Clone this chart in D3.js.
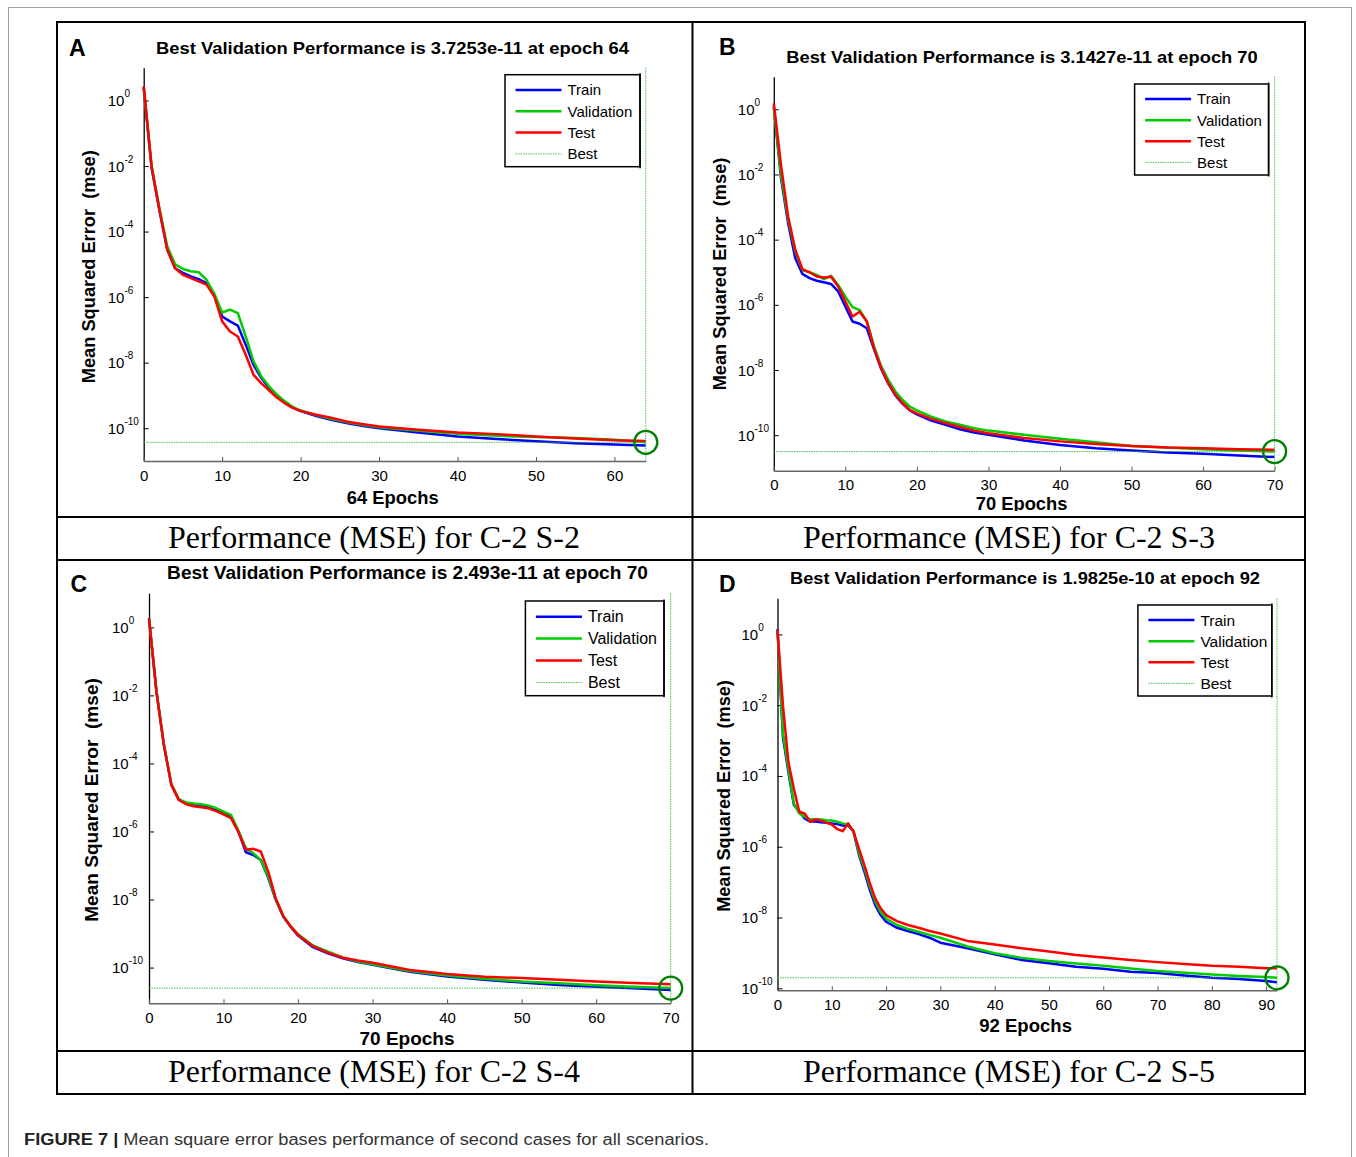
<!DOCTYPE html>
<html>
<head>
<meta charset="utf-8">
<script src="https://cdn.jsdelivr.net/npm/d3@7"></script>
<style>
  html, body { margin: 0; padding: 0; background: #fff; }
  svg { display: block; }
</style>
</head>
<body>
<svg id="fig" width="1356" height="1157"></svg>
<script>
// ---------------------------------------------------------------------------
// Training records: MSE per epoch, stored as powers of ten (log10 of MSE).
// ---------------------------------------------------------------------------
const epochsA = [0,1,2,3,4,5,6,7,8,9,10,11,12,13,14,15,16,17,18,19,20,22,24,26,28,30,35,40,45,50,55,60,64];
const trainA = [0.40,-2.05,-3.35,-4.55,-5.12,-5.26,-5.37,-5.45,-5.57,-5.93,-6.59,-6.74,-6.87,-7.45,-8.07,-8.47,-8.78,-9.03,-9.22,-9.37,-9.48,-9.63,-9.75,-9.85,-9.93,-10.0,-10.13,-10.25,-10.33,-10.4,-10.46,-10.5,-10.53];
const validA = [0.40,-2.0,-3.28,-4.45,-5.0,-5.14,-5.21,-5.24,-5.47,-5.9,-6.47,-6.38,-6.49,-7.2,-7.96,-8.42,-8.73,-8.98,-9.18,-9.35,-9.46,-9.6,-9.72,-9.82,-9.9,-9.97,-10.08,-10.17,-10.23,-10.27,-10.3,-10.35,-10.429];
const testA  = [0.44,-2.0,-3.33,-4.55,-5.12,-5.32,-5.42,-5.52,-5.62,-5.98,-6.74,-7.05,-7.2,-7.76,-8.37,-8.63,-8.85,-9.07,-9.24,-9.38,-9.47,-9.59,-9.69,-9.8,-9.88,-9.95,-10.05,-10.13,-10.18,-10.25,-10.31,-10.37,-10.39];

const epochsB = [0,1,2,3,4,5,6,7,8,9,10,11,12,13,14,15,16,17,18,19,20,22,24,26,28,30,35,40,45,50,55,60,65,70];
const trainB = [0.08,-2.1,-3.5,-4.57,-5.05,-5.18,-5.26,-5.31,-5.36,-5.59,-6.05,-6.51,-6.58,-6.72,-7.36,-7.96,-8.42,-8.78,-9.04,-9.24,-9.36,-9.55,-9.68,-9.82,-9.92,-9.99,-10.16,-10.3,-10.4,-10.47,-10.53,-10.57,-10.62,-10.67];
const validB = [0.05,-2.0,-3.38,-4.36,-4.93,-5.0,-5.08,-5.21,-5.11,-5.39,-5.75,-6.07,-6.16,-6.51,-7.26,-7.88,-8.3,-8.66,-8.92,-9.12,-9.24,-9.43,-9.58,-9.68,-9.79,-9.86,-9.99,-10.11,-10.22,-10.33,-10.38,-10.43,-10.47,-10.503];
const testB  = [0.18,-1.7,-3.29,-4.31,-4.91,-5.0,-5.13,-5.16,-5.14,-5.44,-5.9,-6.36,-6.21,-6.51,-7.33,-7.94,-8.4,-8.76,-9.02,-9.22,-9.33,-9.5,-9.63,-9.75,-9.86,-9.94,-10.09,-10.19,-10.27,-10.33,-10.38,-10.4,-10.43,-10.45];

const epochsC = [0,1,2,3,4,5,6,7,8,9,10,11,12,13,14,15,16,17,18,19,20,22,24,26,28,30,35,40,45,50,55,60,65,70];
const trainC = [0.26,-1.89,-3.46,-4.63,-5.07,-5.18,-5.22,-5.26,-5.29,-5.35,-5.45,-5.56,-6.0,-6.61,-6.69,-6.84,-7.36,-8.01,-8.5,-8.8,-9.06,-9.4,-9.58,-9.73,-9.84,-9.92,-10.12,-10.26,-10.36,-10.44,-10.51,-10.56,-10.61,-10.66];
const validC = [0.26,-1.89,-3.46,-4.6,-5.05,-5.15,-5.18,-5.2,-5.24,-5.31,-5.42,-5.51,-5.98,-6.49,-6.64,-6.84,-7.32,-7.99,-8.48,-8.78,-9.02,-9.35,-9.53,-9.7,-9.82,-9.9,-10.1,-10.23,-10.33,-10.41,-10.46,-10.52,-10.56,-10.603];
const testC  = [0.26,-1.89,-3.46,-4.63,-5.07,-5.2,-5.26,-5.29,-5.32,-5.4,-5.5,-5.61,-6.02,-6.54,-6.51,-6.59,-7.18,-7.96,-8.48,-8.79,-9.04,-9.37,-9.56,-9.71,-9.79,-9.86,-10.07,-10.19,-10.27,-10.31,-10.36,-10.41,-10.45,-10.49];

const epochsD = [0,1,2,3,4,5,6,7,8,9,10,11,12,13,14,15,16,17,18,19,20,22,24,26,28,30,35,40,45,50,55,60,65,70,75,80,85,90,92];
const trainD = [0.15,-2.9,-3.88,-4.81,-5.0,-5.2,-5.29,-5.29,-5.31,-5.32,-5.34,-5.36,-5.40,-5.40,-5.57,-6.23,-6.7,-7.22,-7.65,-7.93,-8.12,-8.29,-8.38,-8.47,-8.57,-8.71,-8.87,-9.04,-9.2,-9.29,-9.39,-9.45,-9.53,-9.57,-9.64,-9.7,-9.74,-9.79,-9.83];
const validD = [0.12,-2.8,-3.79,-4.77,-5.06,-5.15,-5.23,-5.22,-5.23,-5.25,-5.26,-5.29,-5.34,-5.37,-5.55,-6.18,-6.61,-7.12,-7.55,-7.84,-8.03,-8.21,-8.32,-8.4,-8.49,-8.57,-8.82,-9.01,-9.14,-9.23,-9.3,-9.36,-9.44,-9.51,-9.56,-9.61,-9.65,-9.68,-9.703];
const testD  = [0.12,-2.0,-3.6,-4.35,-5.01,-5.06,-5.29,-5.23,-5.26,-5.32,-5.37,-5.5,-5.56,-5.34,-5.57,-6.05,-6.52,-7.03,-7.46,-7.74,-7.93,-8.1,-8.21,-8.29,-8.38,-8.45,-8.66,-8.76,-8.87,-8.96,-9.06,-9.13,-9.2,-9.26,-9.31,-9.36,-9.39,-9.43,-9.43];

// Best validation performance and the epoch it was reached
const bestPerf  = [3.7253e-11, 3.1427e-11, 2.493e-11, 1.9825e-10];
const bestEpoch = [64, 70, 70, 92];

// Tick values and labels
const xTicksA = [0,10,20,30,40,50,60];
const xTicksB = [0,10,20,30,40,50,60,70];
const xTicksC = [0,10,20,30,40,50,60,70];
const xTicksD = [0,10,20,30,40,50,60,70,80,90];
const yTickValues = [1e0, 1e-2, 1e-4, 1e-6, 1e-8, 1e-10];

const panelLetters = ["A", "B", "C", "D"];
const legendLabels = ["Train", "Validation", "Test", "Best"];
const yAxisLabel = "Mean Squared Error  (mse)";
const cellCaptions = ["Performance (MSE) for C-2 S-2", "Performance (MSE) for C-2 S-3",
                      "Performance (MSE) for C-2 S-4", "Performance (MSE) for C-2 S-5"];
const figureLabel = "FIGURE 7 |";
const figureText = " Mean square error bases performance of second cases for all scenarios.";

// ---------------------------------------------------------------------------
const SANS = "'Liberation Sans', Arial, Helvetica, sans-serif";
const SERIF = "'Liberation Serif', 'Times New Roman', Times, serif";
const COLORS = { train: "#0000ff", valid: "#00cc00", test: "#ff0000", best: "#33bb33", circle: "#007f00" };

// Geometry of each panel (pixel frame of the axes and its surrounding texts)
const panels = [
  { epochs: epochsA, train: trainA, valid: validA, test: testA, xTicks: xTicksA,
    left: 143.7, right: 645.8, top: 67.7, bottom: 461, expLo: -11, expHi: 1, yLabOff: 36,
    title: { x: 392.5, y: 54, len: 473, fs: 17 }, letter: { x: 69, y: 55.7 },
    yLab: { x: 88.7, y: 266.7, len: 233 }, xLab: { x: 392.7, y: 503.8, len: 92 },
    legend: { x: 505, y: 74.7, w: 135, h: 92, fs: 15 } },
  { epochs: epochsB, train: trainB, valid: validB, test: testB, xTicks: xTicksB,
    left: 773.8, right: 1274.6, top: 76.7, bottom: 470.7, expLo: -11.09, expHi: 1, yLabOff: 36,
    title: { x: 1022, y: 63.4, len: 471.5, fs: 17 }, letter: { x: 719, y: 55.3 },
    yLab: { x: 719.5, y: 274, len: 232.7 }, xLab: { x: 1021.6, y: 509.5, len: 91.8, clip: 511 },
    legend: { x: 1134.6, y: 84, w: 134, h: 91, fs: 15 } },
  { epochs: epochsC, train: trainC, valid: validC, test: testC, xTicks: xTicksC,
    left: 149, right: 670.7, top: 593.3, bottom: 1003.3, expLo: -11.05, expHi: 1, yLabOff: 37,
    title: { x: 407.5, y: 579.4, len: 480.8, fs: 18 }, letter: { x: 70.5, y: 592.3 },
    yLab: { x: 92, y: 800, len: 243.7 }, xLab: { x: 407, y: 1044.8, len: 95 },
    legend: { x: 525.4, y: 601, w: 138.6, h: 94.7, fs: 16 } },
  { epochs: epochsD, train: trainD, valid: validD, test: testD, xTicks: xTicksD,
    left: 777.5, right: 1277, top: 598.3, bottom: 990.3, expLo: -10.056, expHi: 1.02, yLabOff: 36,
    title: { x: 1025, y: 584.4, len: 470, fs: 17 }, letter: { x: 719, y: 592.3 },
    yLab: { x: 723.6, y: 796, len: 231.7 }, xLab: { x: 1025.6, y: 1031.5, len: 92.7 },
    legend: { x: 1137.9, y: 605, w: 133.9, h: 91, fs: 15.5 } }
];

const svg = d3.select("#fig");
const defs = svg.append("defs");

// Page frame (open at the bottom)
svg.append("path")
  .attr("d", "M8.5,1157 V7.5 H1351.5 V1157")
  .attr("fill", "none").attr("stroke", "#a0a0a0").attr("stroke-width", 1);

// Table grid around the four panels
const grid = svg.append("g").attr("fill", "none").attr("stroke", "#000").attr("stroke-width", 2);
grid.append("rect").attr("x", 57).attr("y", 22).attr("width", 1248).attr("height", 1072);
[517, 560, 1051].forEach(yy => grid.append("line").attr("x1", 57).attr("x2", 1305).attr("y1", yy).attr("y2", yy));
grid.append("line").attr("x1", 692.5).attr("x2", 692.5).attr("y1", 22).attr("y2", 1094);

function drawPanel(p, i) {
  const g = svg.append("g").attr("font-family", SANS);
  const nEpochs = p.epochs[p.epochs.length - 1];
  const x = d3.scaleLinear().domain([0, nEpochs]).range([p.left, p.right]);
  const y = d3.scaleLog().domain([10 ** p.expLo, 10 ** p.expHi]).range([p.bottom, p.top]);

  // y axis
  const yAxis = g.append("g")
    .attr("transform", `translate(${p.left},0)`)
    .call(d3.axisLeft(y).tickValues(yTickValues).tickSizeInner(-5).tickSizeOuter(0).tickFormat(""));
  yAxis.attr("font-family", SANS).attr("font-size", null);
  yAxis.select(".domain").attr("stroke", "#000").attr("stroke-width", 1.3);
  yAxis.selectAll(".tick line").attr("stroke", "#000").attr("stroke-width", 1);
  yAxis.selectAll(".tick text").each(function (d) {
    const t = d3.select(this);
    t.text(null).attr("x", -p.yLabOff).attr("dy", null).attr("y", 5)
      .attr("text-anchor", "start").attr("fill", "#000");
    t.append("tspan").attr("font-size", 15).text("10");
    t.append("tspan").attr("font-size", 10).attr("dy", -9).text(Math.round(Math.log10(d)));
  });

  // x axis
  const xAxis = g.append("g")
    .attr("transform", `translate(0,${p.bottom})`)
    .call(d3.axisBottom(x).tickValues(p.xTicks).tickSizeInner(-4).tickSizeOuter(0).tickPadding(9));
  xAxis.attr("font-family", SANS).attr("font-size", 15);
  xAxis.select(".domain").attr("stroke", "#666").attr("stroke-width", 1.6);
  xAxis.selectAll(".tick line").attr("stroke", "#555");
  xAxis.selectAll(".tick text").attr("fill", "#000");

  // curves: train, validation, test
  const line = d3.line().x(d => x(d.e)).y(d => y(10 ** d.v));
  const series = [
    { vals: p.train, color: COLORS.train },
    { vals: p.valid, color: COLORS.valid },
    { vals: p.test,  color: COLORS.test }
  ];
  series.forEach(s => {
    const pts = p.epochs.map((e, k) => ({ e, v: s.vals[k] }));
    g.append("path").datum(pts).attr("d", line)
      .attr("fill", "none").attr("stroke", s.color).attr("stroke-width", 2.5)
      .attr("stroke-linejoin", "round");
  });

  // best-epoch guides and marker
  const bx = x(bestEpoch[i]), by = y(bestPerf[i]);
  g.append("line").attr("x1", p.left).attr("x2", bx).attr("y1", by).attr("y2", by)
    .attr("stroke", COLORS.best).attr("stroke-width", 0.9).attr("stroke-dasharray", "1.5,1");
  g.append("line").attr("x1", bx).attr("x2", bx).attr("y1", p.top).attr("y2", p.bottom)
    .attr("stroke", COLORS.best).attr("stroke-width", 0.9).attr("stroke-dasharray", "1.5,1");
  g.append("circle").attr("cx", bx).attr("cy", by).attr("r", 11.5)
    .attr("fill", "none").attr("stroke", COLORS.circle).attr("stroke-width", 2.3);

  // legend
  const L = p.legend;
  const lg = g.append("g");
  lg.append("rect").attr("x", L.x).attr("y", L.y).attr("width", L.w).attr("height", L.h)
    .attr("fill", "#fff").attr("stroke", "#000").attr("stroke-width", 1.5);
  lg.append("line").attr("x1", L.x + L.w).attr("x2", L.x + L.w).attr("y1", L.y - 1.5).attr("y2", L.y + L.h + 1.5)
    .attr("stroke", "#000").attr("stroke-width", 1.5);
  const legendStyles = [
    { color: COLORS.train, w: 2.5 }, { color: COLORS.valid, w: 2.5 },
    { color: COLORS.test, w: 2.5 }, { color: COLORS.best, w: 0.9, dash: "1.5,1" }
  ];
  legendLabels.forEach((lab, k) => {
    const ry = L.y + L.h * 0.165 + k * L.h * 0.232;
    const st = legendStyles[k];
    lg.append("line").attr("x1", L.x + 10.5).attr("x2", L.x + 56.5).attr("y1", ry).attr("y2", ry)
      .attr("stroke", st.color).attr("stroke-width", st.w).attr("stroke-dasharray", st.dash || null);
    lg.append("text").attr("x", L.x + 62.5).attr("y", ry + L.fs * 0.36)
      .attr("font-size", L.fs).attr("fill", "#000").text(lab);
  });

  // title, panel letter, axis labels
  g.append("text").attr("x", p.title.x).attr("y", p.title.y)
    .attr("text-anchor", "middle").attr("font-weight", "bold").attr("font-size", p.title.fs)
    .attr("textLength", p.title.len).attr("lengthAdjust", "spacingAndGlyphs")
    .text(`Best Validation Performance is ${bestPerf[i]} at epoch ${bestEpoch[i]}`);
  g.append("text").attr("x", p.letter.x).attr("y", p.letter.y)
    .attr("font-weight", "bold").attr("font-size", 23).text(panelLetters[i]);
  g.append("text")
    .attr("transform", `translate(${p.yLab.x},${p.yLab.y}) rotate(-90)`)
    .attr("dy", "0.36em").attr("text-anchor", "middle")
    .attr("font-weight", "bold").attr("font-size", 17.5).style("white-space", "pre")
    .attr("textLength", p.yLab.len).attr("lengthAdjust", "spacingAndGlyphs")
    .text(yAxisLabel);
  const xl = g.append("text").attr("x", p.xLab.x).attr("y", p.xLab.y)
    .attr("text-anchor", "middle").attr("font-weight", "bold").attr("font-size", 18)
    .attr("textLength", p.xLab.len).attr("lengthAdjust", "spacingAndGlyphs")
    .text(`${nEpochs} Epochs`);
  if (p.xLab.clip) {
    const id = "clipx" + i;
    defs.append("clipPath").attr("id", id).append("rect")
      .attr("x", p.xLab.x - 80).attr("y", p.xLab.y - 30).attr("width", 160).attr("height", p.xLab.clip - (p.xLab.y - 30));
    xl.attr("clip-path", `url(#${id})`);
  }
}

panels.forEach(drawPanel);

// captions inside the table
const capPos = [[374, 548], [1009, 548], [374, 1082], [1009, 1082]];
cellCaptions.forEach((c, k) => {
  svg.append("text").attr("x", capPos[k][0]).attr("y", capPos[k][1])
    .attr("text-anchor", "middle").attr("font-family", SERIF).attr("font-size", 32)
    .attr("textLength", 412).attr("lengthAdjust", "spacingAndGlyphs")
    .attr("fill", "#000").text(c);
});

// figure caption
const fc = svg.append("text").attr("x", 24).attr("y", 1145)
  .attr("font-family", SANS).attr("font-size", 16).attr("fill", "#333")
  .attr("textLength", 685).attr("lengthAdjust", "spacingAndGlyphs");
fc.append("tspan").attr("font-weight", "bold").attr("fill", "#222").text(figureLabel);
fc.append("tspan").text(figureText);
</script>
</body>
</html>
